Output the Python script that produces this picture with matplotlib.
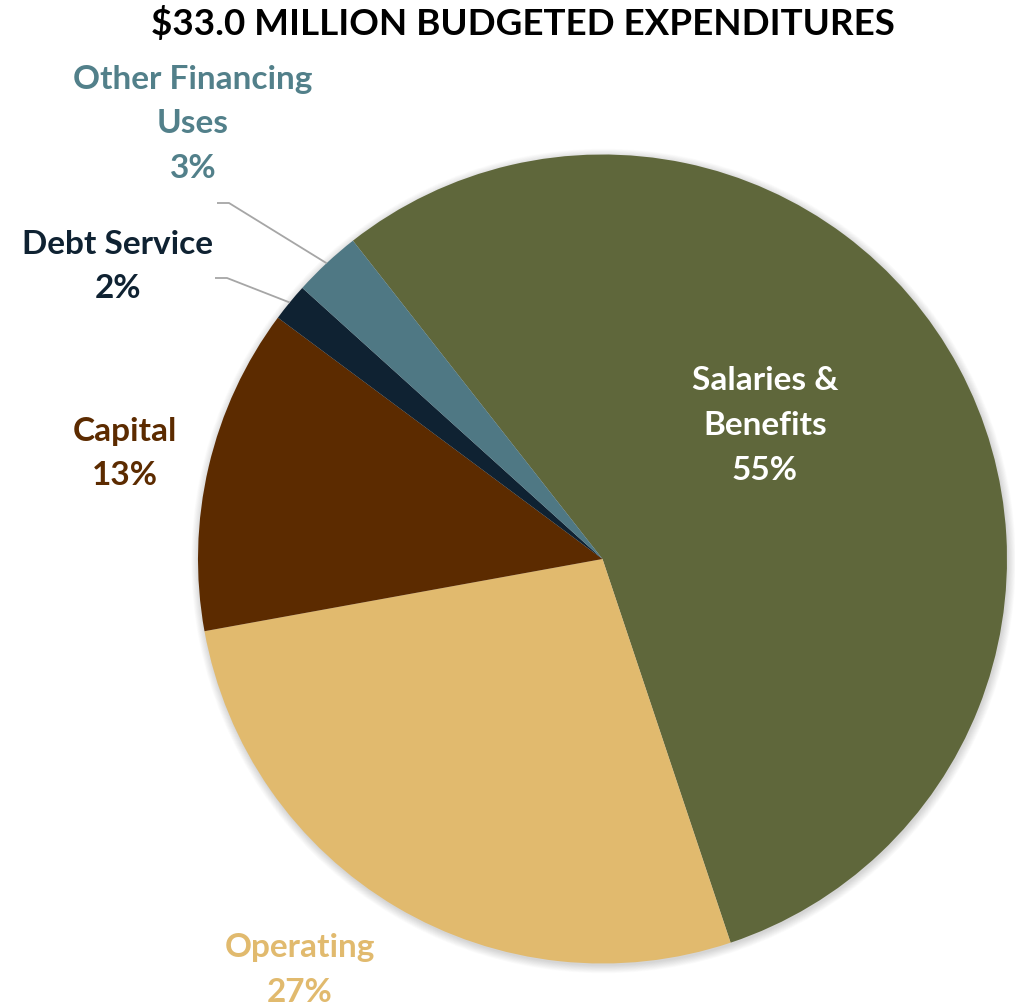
import numpy as np
import matplotlib
matplotlib.use("Agg")
import matplotlib.pyplot as plt
from matplotlib.patches import Circle

# Budgeted expenditures, $ millions
categories = ["Salaries &\nBenefits", "Operating", "Capital", "Debt Service", "Other Financing\nUses"]
amounts = [18.3, 9.0, 4.3, 0.5, 0.9]
colors = ["#5F673B", "#E1BA6E", "#5C2B00", "#0F2232", "#4F7884"]
label_colors = ["#FFFFFF", "#E1BA6E", "#5C2B00", "#0F2232", "#52808A"]
title = "$33.0 MILLION BUDGETED EXPENDITURES"

W, H = 1015, 1008
fig = plt.figure(figsize=(W / 100, H / 100), dpi=100)
ax = fig.add_axes([0, 0, 1, 1])

FONT = "Lato"

def py(y):
    # pixel row (from top) -> data y
    return H - y

cx, cy, R = 602.5, py(559), 404.5

# soft drop shadow around the pie
for k in range(14):
    ax.add_patch(Circle((cx + 1.0, cy - 2.0), R + 0.6 * k, color="black",
                        alpha=0.012, lw=0, zorder=0))

wedges, _ = ax.pie(amounts, colors=colors, startangle=128.1, counterclock=False,
                   center=(cx, cy), radius=R, frame=True,
                   wedgeprops=dict(linewidth=0, zorder=2))
ax.set_xlim(0, W)
ax.set_ylim(0, H)
ax.set_aspect("equal")
ax.axis("off")

total = sum(amounts)
pcts = [f"{round(a / total * 100)}%" for a in amounts]

# label anchor positions (centre x, first-line y in pixels from top)
label_pos = [(765, 381), (300, 948), (125, 431), (118, 244), (193, 79)]
line_gap = 44.5
fs = 24

for i, (name, pct) in enumerate(zip(categories, pcts)):
    x, y0 = label_pos[i]
    lines = name.split("\n") + [pct]
    for j, ln in enumerate(lines):
        ax.text(x, py(y0 + j * line_gap), ln, ha="center", va="center",
                fontsize=fs, fontweight="bold", family=FONT,
                color=label_colors[i], zorder=5)

# leader lines for the two thin slices
leader_start = {3: (215, 278), 4: (217, 203)}
for i, (sx, sy) in leader_start.items():
    w = wedges[i]
    mid = np.deg2rad((w.theta1 + w.theta2) / 2)
    ex, ey = cx + R * np.cos(mid), cy + R * np.sin(mid)
    ax.plot([sx, sx + 12, ex], [py(sy), py(sy), ey], color="#A6A6A6",
            lw=1.3, zorder=3, solid_capstyle="butt")

ax.text(W / 2 + 15, py(24), title, ha="center", va="center", fontsize=26.5,
        fontweight="bold", family=FONT, color="black")

fig.savefig("out.png", dpi=100, facecolor="white")
